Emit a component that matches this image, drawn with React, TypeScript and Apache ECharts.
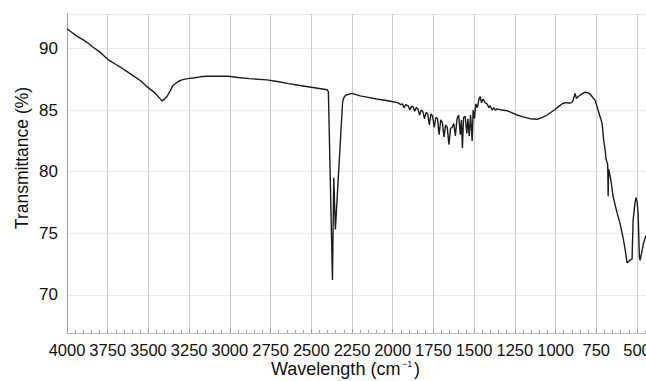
import React, { useEffect, useRef } from "react";
import * as echarts from "echarts";

const wavenumbers: number[] = [
  4000, 3970, 3940, 3900, 3877, 3840, 3797, 3748, 3700, 3674, 3640, 3595, 3550, 3509, 3470, 3447, 3430, 3417, 3405, 3386,
  3365, 3349, 3320, 3294, 3260, 3226, 3183, 3140, 3080, 3011, 2950, 2880, 2772, 2700, 2640, 2569, 2500, 2450, 2403, 2395,
  2370, 2362, 2352, 2308, 2300, 2290, 2250, 2200, 2159, 2100, 2050, 2006, 1970, 1950, 1940, 1930, 1920, 1905, 1895, 1885,
  1875, 1865, 1855, 1845, 1835, 1825, 1815, 1805, 1795, 1785, 1775, 1765, 1755, 1745, 1735, 1725, 1715, 1705, 1695, 1685,
  1675, 1665, 1655, 1645, 1635, 1625, 1615, 1605, 1595, 1585, 1578, 1572, 1565, 1555, 1545, 1538, 1530, 1522, 1512, 1506,
  1498, 1490, 1480, 1470, 1463, 1455, 1445, 1433, 1420, 1410, 1402, 1390, 1380, 1370, 1359, 1330, 1298, 1270, 1236, 1200,
  1156, 1113, 1080, 1052, 1030, 1003, 980, 954, 930, 911, 895, 880, 872, 860, 840, 818, 800, 788, 770, 757,
  748, 739, 725, 714, 705, 696, 690, 680, 677, 674, 660, 647, 625, 604, 585, 573, 561, 550, 540, 530,
  524, 512, 506, 499, 493, 485, 481, 470, 460, 450, 445,
];

const transmittance: number[] = [
  91.6, 91.3, 91.0, 90.7, 90.5, 90.1, 89.7, 89.1, 88.7, 88.5, 88.2, 87.8, 87.4, 86.9, 86.5, 86.2, 85.95, 85.75, 85.85, 86.1,
  86.6, 87.0, 87.3, 87.45, 87.55, 87.6, 87.7, 87.75, 87.75, 87.75, 87.65, 87.55, 87.45, 87.3, 87.15, 87.0, 86.85, 86.75, 86.65, 86.5,
  71.2, 79.5, 75.3, 85.6, 86.0, 86.2, 86.35, 86.15, 86.05, 85.9, 85.8, 85.7, 85.6, 85.45, 85.5, 85.2, 85.45, 85.35, 85.0, 85.3,
  85.3, 84.9, 85.2, 85.1, 84.6, 85.0, 84.9, 84.3, 84.8, 84.7, 83.8, 84.7, 84.5, 83.6, 84.4, 84.3, 83.0, 84.2, 84.0, 82.8,
  83.8, 83.6, 82.2, 83.5, 83.6, 83.9, 82.9, 84.3, 84.6, 83.0, 84.2, 81.9, 84.4, 84.5, 83.1, 84.3, 82.9, 84.6, 82.5, 85.0,
  84.3, 85.5, 85.2, 85.9, 86.1, 85.6, 85.9, 85.6, 85.5, 85.2, 85.35, 85.0, 85.2, 85.0, 85.1, 85.0, 84.95, 84.8, 84.6, 84.45,
  84.3, 84.25, 84.4, 84.6, 84.8, 85.05, 85.3, 85.55, 85.6, 85.55, 85.7, 86.35, 85.95, 86.1, 86.3, 86.45, 86.4, 86.3, 86.0, 85.8,
  85.4, 85.0, 84.4, 83.9, 82.6, 81.8, 81.0, 80.6, 78.0, 80.2, 79.3, 78.0, 76.8, 75.8, 74.6, 73.7, 72.6, 72.7, 72.85, 72.9,
  76.0, 77.5, 77.9, 77.5, 76.6, 73.0, 72.8, 73.5, 74.2, 74.6, 74.8,
];

const yTickValues: number[] = [70, 75, 80, 85, 90];

const FONT = "'Liberation Sans', Arial, Helvetica, sans-serif";

export default function App() {
  const ref = useRef<HTMLDivElement>(null);

  useEffect(() => {
    if (!ref.current) return;
    const chart = echarts.init(ref.current, undefined, { renderer: "svg" });
    const data = wavenumbers.map((w, i) => [w, transmittance[i]]);
    chart.setOption({
      animation: false,
      backgroundColor: "#ffffff",
      grid: { left: 67, top: 14, width: 610.7, height: 319, containLabel: false, outerBoundsMode: "none" },
      xAxis: {
        type: "value",
        inverse: true,
        min: 250,
        max: 4000,
        interval: 250,
        axisLine: { show: true, lineStyle: { color: "#b8b8b8", width: 1, type: "dotted" } },
        axisTick: { show: true, inside: true, length: 4, lineStyle: { color: "#a0a0a0" } },
        minorTick: { show: true, splitNumber: 5, length: 3, lineStyle: { color: "#a8a8a8" } },
        splitLine: { show: true, lineStyle: { color: "#cdcdcd", width: 1 } },
        axisLabel: {
          color: "#111",
          fontSize: 16.5,
          fontFamily: FONT,
          margin: 8,
          formatter: (v: number) => String(v),
        },
      },
      yAxis: {
        type: "value",
        min: 66.9,
        max: 92.8,
        splitNumber: 5,
        minInterval: 5,
        maxInterval: 5,
        axisLine: { show: true, lineStyle: { color: "#a0a0a0", width: 1 } },
        axisTick: { show: false },
        splitLine: { show: true, lineStyle: { color: "#ececec", width: 1 } },
        axisLabel: {
          color: "#111",
          fontSize: 17,
          fontFamily: FONT,
          margin: 9,
          showMinLabel: false,
          showMaxLabel: false,
          formatter: (v: number) => (yTickValues.indexOf(Math.round(v * 100) / 100) >= 0 ? String(v) : ""),
        },
      },
      graphic: [
        {
          type: "text",
          x: 22,
          y: 158,
          rotation: Math.PI / 2,
          style: { text: "Transmittance (%)", fontSize: 17.5, fontFamily: FONT, fill: "#111", align: "center", verticalAlign: "middle" },
        },
        {
          type: "text",
          x: 271,
          y: 369,
          style: { text: "Wavelength (cm", fontSize: 18, fontFamily: FONT, fill: "#111", align: "left", verticalAlign: "middle" },
        },
        {
          type: "text",
          x: 402,
          y: 364,
          style: { text: "−1", fontSize: 9, fontFamily: FONT, fill: "#111", align: "left", verticalAlign: "middle" },
        },
        {
          type: "text",
          x: 414,
          y: 369,
          style: { text: ")", fontSize: 18, fontFamily: FONT, fill: "#111", align: "left", verticalAlign: "middle" },
        },
      ],
      series: [
        {
          type: "line",
          data,
          showSymbol: false,
          clip: true,
          lineStyle: { color: "#1c1c1c", width: 1.4 },
        },
      ],
    });
    return () => chart.dispose();
  }, []);

  return <div ref={ref} style={{ position: "fixed", left: 0, top: 0, width: 646, height: 381 }} />;
}
